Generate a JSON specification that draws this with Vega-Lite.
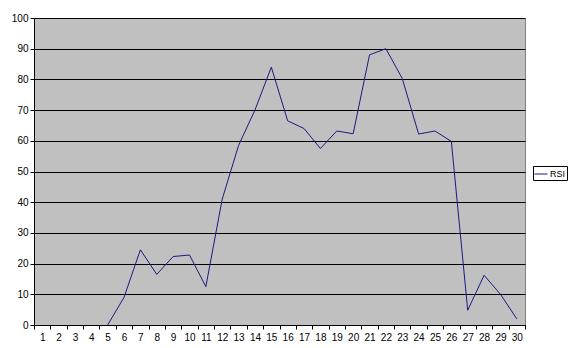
{
  "$schema": "https://vega.github.io/schema/vega-lite/v6.json",
  "width": 491,
  "height": 307,
  "autosize": {"type": "none"},
  "padding": {"left": 34, "top": 18, "right": 53, "bottom": 23},
  "background": "white",
  "config": {
    "view": {"fill": "#C0C0C0", "stroke": "#808080", "strokeWidth": 1},
    "font": "Liberation Sans"
  },
  "data": {
    "values": [
      {"x": 5, "RSI": 0},
      {"x": 6, "RSI": 9},
      {"x": 7, "RSI": 24.5},
      {"x": 8, "RSI": 16.5},
      {"x": 9, "RSI": 22.3},
      {"x": 10, "RSI": 22.8},
      {"x": 11, "RSI": 12.5},
      {"x": 12, "RSI": 41},
      {"x": 13, "RSI": 58.5},
      {"x": 14, "RSI": 70},
      {"x": 15, "RSI": 84},
      {"x": 16, "RSI": 66.5},
      {"x": 17, "RSI": 64},
      {"x": 18, "RSI": 57.5},
      {"x": 19, "RSI": 63.2},
      {"x": 20, "RSI": 62.3},
      {"x": 21, "RSI": 88},
      {"x": 22, "RSI": 90},
      {"x": 23, "RSI": 80.3},
      {"x": 24, "RSI": 62.2},
      {"x": 25, "RSI": 63.2},
      {"x": 26, "RSI": 59.8},
      {"x": 27, "RSI": 4.8},
      {"x": 28, "RSI": 16.2},
      {"x": 29, "RSI": 10},
      {"x": 30, "RSI": 2}
    ]
  },
  "mark": {"type": "line", "strokeWidth": 1},
  "encoding": {
    "x": {
      "field": "x",
      "type": "ordinal",
      "bandPosition": 0.5,
      "scale": {"type": "band", "domain": [1,2,3,4,5,6,7,8,9,10,11,12,13,14,15,16,17,18,19,20,21,22,23,24,25,26,27,28,29,30], "paddingInner": 0, "paddingOuter": 0},
      "axis": {
        "title": null,
        "labelAngle": 0,
        "labelFontSize": 10,
        "labelColor": "black",
        "labelPadding": 3,
        "tickBand": "extent",
        "tickColor": "black",
        "tickSize": 4,
        "domainColor": "black",
        "grid": false
      }
    },
    "y": {
      "field": "RSI",
      "type": "quantitative",
      "scale": {"domain": [0, 100], "nice": false},
      "axis": {
        "title": null,
        "values": [0,10,20,30,40,50,60,70,80,90,100],
        "labelFontSize": 10,
        "labelColor": "black",
        "labelPadding": 2,
        "tickColor": "black",
        "tickSize": 4,
        "domainColor": "black",
        "grid": true,
        "gridColor": "black",
        "gridOpacity": 1,
        "gridWidth": 1
      }
    },
    "color": {
      "datum": "RSI",
      "type": "nominal",
      "scale": {"range": ["#1a1a80"]},
      "legend": {
        "title": null,
        "orient": "none",
        "legendX": 499,
        "legendY": 148,
        "symbolType": "stroke",
        "symbolSize": 169,
        "symbolStrokeWidth": 1,
        "labelFontSize": 9,
        "labelOffset": 2,
        "labelColor": "black",
        "strokeColor": "black",
        "padding": 1,
        "fillColor": "white"
      }
    }
  }
}
